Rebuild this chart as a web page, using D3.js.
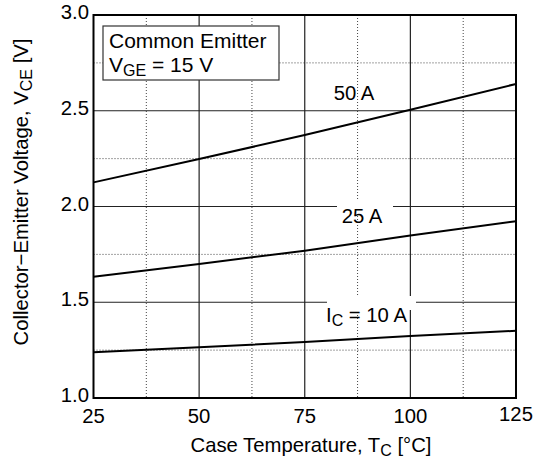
<!DOCTYPE html>
<html>
<head>
<meta charset="utf-8">
<script src="https://cdn.jsdelivr.net/npm/d3@7"></script>
<style>
  body { margin: 0; background: #fff; }
  svg { display: block; font-family: "Liberation Sans", Arial, sans-serif; }
</style>
</head>
<body>
<div id="chart"></div>
<script>
// Case temperature (x) and collector-emitter voltage per collector current
var temps = [25, 50, 75, 100, 125];
var vce50 = [2.126, 2.248, 2.373, 2.505, 2.64];
var vce25 = [1.633, 1.700, 1.769, 1.848, 1.923];
var vce10 = [1.239, 1.265, 1.292, 1.324, 1.351];
var seriesNames = ["50 A", "25 A", "10 A"];

var xTicks = [25, 50, 75, 100, 125];
var xMinor = [37.5, 62.5, 87.5, 112.5];
var yTicks = [1.0, 1.5, 2.0, 2.5, 3.0];
var yMinor = [1.25, 1.75, 2.25, 2.75];

function draw() {
  var width = 535, height = 460;
  var left = 93.5, right = 516, top = 15, bottom = 398;

  var xScale = d3.scaleLinear().domain([25, 125]).range([left, right]);
  var yScale = d3.scaleLinear().domain([1, 3]).range([bottom, top]);

  var svg = d3.select("#chart").append("svg")
      .attr("width", width)
      .attr("height", height);

  // minor dotted grid
  svg.append("g").selectAll("line").data(xMinor).enter().append("line")
      .attr("x1", d => xScale(d)).attr("x2", d => xScale(d))
      .attr("y1", top).attr("y2", bottom)
      .attr("stroke", "#444").attr("stroke-width", 1).attr("stroke-dasharray", "1,2");
  svg.append("g").selectAll("line").data(yMinor).enter().append("line")
      .attr("x1", left).attr("x2", right)
      .attr("y1", d => yScale(d)).attr("y2", d => yScale(d))
      .attr("stroke", "#444").attr("stroke-width", 1).attr("stroke-dasharray", "1,2");

  // major solid grid
  svg.append("g").selectAll("line").data(xTicks.slice(1, -1)).enter().append("line")
      .attr("x1", d => xScale(d)).attr("x2", d => xScale(d))
      .attr("y1", top).attr("y2", bottom)
      .attr("stroke", "#222").attr("stroke-width", 1.2);
  svg.append("g").selectAll("line").data(yTicks.slice(1, -1)).enter().append("line")
      .attr("x1", left).attr("x2", right)
      .attr("y1", d => yScale(d)).attr("y2", d => yScale(d))
      .attr("stroke", "#222").attr("stroke-width", 1.2);

  // curves
  var line = d3.line()
      .x((d, i) => xScale(temps[i]))
      .y(d => yScale(d));
  svg.append("g").selectAll("path").data([vce50, vce25, vce10]).enter().append("path")
      .attr("d", d => line(d))
      .attr("fill", "none")
      .attr("stroke", "#000")
      .attr("stroke-width", 2);

  // frame
  svg.append("rect")
      .attr("x", left).attr("y", top)
      .attr("width", right - left).attr("height", bottom - top)
      .attr("fill", "none").attr("stroke", "#000").attr("stroke-width", 2);

  var fs = 20.3, sub = 16;

  // tick labels
  svg.append("g").selectAll("text").data(xTicks).enter().append("text")
      .attr("x", d => xScale(d))
      .attr("y", d => d === 125 ? 421 : 423)
      .attr("text-anchor", "middle")
      .attr("font-size", fs)
      .text(d => d);
  svg.append("g").selectAll("text").data(yTicks).enter().append("text")
      .attr("x", 89)
      .attr("y", d => yScale(d) + 4)
      .attr("text-anchor", "end")
      .attr("font-size", fs)
      .text(d => d.toFixed(1));

  // axis titles
  var xt = svg.append("text")
      .attr("x", 311).attr("y", 452)
      .attr("text-anchor", "middle")
      .attr("font-size", fs);
  xt.append("tspan").text("Case Temperature, T");
  xt.append("tspan").attr("font-size", sub).attr("dy", 4).text("C");
  xt.append("tspan").attr("dy", -4).text(" [°C]");

  var yt = svg.append("text")
      .attr("transform", "translate(28,192) rotate(-90)")
      .attr("text-anchor", "middle")
      .attr("font-size", fs);
  yt.append("tspan").text("Collector\u2212Emitter Voltage,  V");
  yt.append("tspan").attr("font-size", sub).attr("dy", 4).text("CE");
  yt.append("tspan").attr("dy", -4).text(" [V]");

  // legend box
  svg.append("rect")
      .attr("x", 103).attr("y", 26).attr("width", 176).attr("height", 54)
      .attr("fill", "#fff").attr("stroke", "#333").attr("stroke-width", 1.2);
  svg.append("text").attr("x", 109).attr("y", 48).attr("font-size", 21).text("Common Emitter");
  var vg = svg.append("text").attr("x", 109).attr("y", 72).attr("font-size", 21);
  vg.append("tspan").text("V");
  vg.append("tspan").attr("font-size", sub).attr("dy", 4).text("GE");
  vg.append("tspan").attr("dy", -4).text(" = 15 V");

  // series labels
  svg.append("text").attr("x", 354).attr("y", 100).attr("text-anchor", "middle")
      .attr("font-size", fs).text(seriesNames[0]);

  svg.append("rect").attr("x", 337).attr("y", 200).attr("width", 56).attr("height", 14).attr("fill", "#fff");
  svg.append("text").attr("x", 362).attr("y", 223).attr("text-anchor", "middle")
      .attr("font-size", fs).text(seriesNames[1]);

  svg.append("rect").attr("x", 327).attr("y", 296).attr("width", 89).attr("height", 14).attr("fill", "#fff");
  var ic = svg.append("text").attr("x", 326).attr("y", 322).attr("font-size", fs);
  ic.append("tspan").text("I");
  ic.append("tspan").attr("font-size", sub).attr("dy", 4).text("C");
  ic.append("tspan").attr("dy", -4).text(" = " + seriesNames[2]);
}

window.onload = draw;
</script>
</body>
</html>
